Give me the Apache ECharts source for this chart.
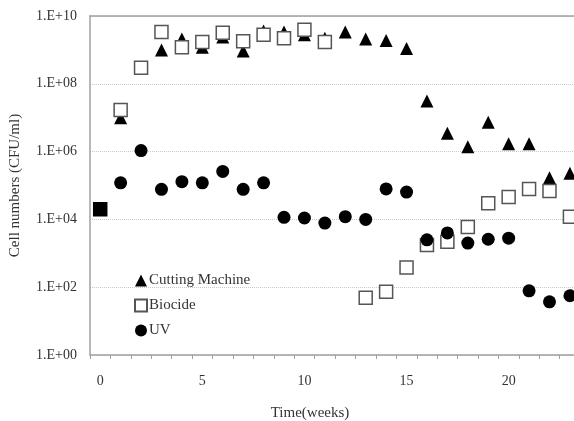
<!DOCTYPE html>
<html>
<head>
<meta charset="utf-8">
<script src="https://cdn.jsdelivr.net/npm/echarts@6/dist/echarts.min.js"></script>
<style>
  html, body { margin: 0; padding: 0; background: #fff; }
  #chart { width: 574px; height: 421px; }
</style>
</head>
<body>
<div id="chart"></div>
<script>
// weeks 0..23
const weeks = [0, 1, 2, 3, 4, 5, 6, 7, 8, 9, 10, 11, 12, 13, 14, 15, 16, 17, 18, 19, 20, 21, 22, 23];
const cuttingMachine = [2.0e4, 1.0e7, 3.0e8, 1.0e9, 2.1e9, 1.2e9, 2.4e9, 9.3e8, 3.6e9, 3.4e9, 2.8e9, 2.2e9,
  3.4e9, 2.1e9, 1.9e9, 1.1e9, 3.1e7, 3.5e6, 1.4e6, 7.4e6, 1.7e6, 1.7e6, 1.7e5, 2.3e5];
const biocide = [2.0e4, 1.7e7, 3.0e8, 3.4e9, 1.2e9, 1.7e9, 3.2e9, 1.8e9, 2.8e9, 2.2e9, 3.9e9, 1.7e9,
  null, 49, 74, 380, 1750, 2200, 6000, 3.0e4, 4.6e4, 7.9e4, 6.9e4, 1.2e4];
const uv = [2.0e4, 1.2e5, 1.07e6, 7.7e4, 1.3e5, 1.2e5, 2.6e5, 7.7e4, 1.2e5, 1.15e4, 1.1e4, 7.8e3,
  1.2e4, 1.0e4, 7.9e4, 6.4e4, 2.5e3, 4.0e3, 2.0e3, 2.6e3, 2.8e3, 78, 37, 56];
const xLabelValues = [0, 5, 10, 15, 20];
const xTickValues = weeks.map(w => w - 0.5);

const FONT = '"Liberation Serif", "Times New Roman", serif';
const TEXT = '#333';
const AXIS = '#a0a0a0';

function pairs(arr) {
  return weeks.map((w, i) => arr[i] == null ? null : [w, arr[i]])
    .filter(p => p !== null);
}

// week 0: all three overlap, drawn as a filled square
const biocideData = pairs(biocide).map(p =>
  p[0] === 0 ? { value: p, itemStyle: { color: '#000', borderColor: '#000' } } : p);

const chart = echarts.init(document.getElementById('chart'));
chart.setOption({
  animation: false,
  backgroundColor: '#fff',
  textStyle: { fontFamily: FONT, color: TEXT },
  grid: { left: 90, right: 0, top: 16, bottom: 66, outerBoundsMode: 'none' },
  legend: {
    orient: 'vertical',
    left: 134,
    top: 273,
    padding: 0,
    itemWidth: 12,
    itemHeight: 12,
    itemGap: 10,
    textStyle: { fontFamily: FONT, fontSize: 15, color: TEXT, padding: [0, 0, 0, -3] },
    data: ['Cutting Machine', 'Biocide', 'UV']
  },
  xAxis: [{
    type: 'value',
    min: -0.5,
    max: 23.2,
    name: 'Time(weeks)',
    nameLocation: 'middle',
    nameGap: 51,
    nameTextStyle: { fontFamily: FONT, fontSize: 15, color: TEXT, padding: [0, 44, 0, 0] },
    axisLine: { onZero: false, lineStyle: { color: AXIS, width: 1.5 } },
    axisTick: { show: true, length: 4, customValues: xTickValues, lineStyle: { color: AXIS } },
    axisLabel: { customValues: xLabelValues, margin: 19, fontFamily: FONT, fontSize: 14, color: TEXT },
    splitLine: { show: false }
  }, {
    type: 'value',
    position: 'top',
    min: -0.5,
    max: 23.2,
    axisLine: { show: true, onZero: false, lineStyle: { color: AXIS, width: 1.5 } },
    axisTick: { show: false },
    axisLabel: { show: false },
    splitLine: { show: false }
  }],
  yAxis: {
    type: 'log',
    logBase: 100,
    min: 1,
    max: 1e10,
    name: 'Cell numbers (CFU/ml)',
    nameLocation: 'middle',
    nameGap: 67,
    nameTextStyle: { fontFamily: FONT, fontSize: 15, color: TEXT },
    axisLine: { show: true, onZero: false, lineStyle: { color: AXIS, width: 1.5 } },
    axisTick: { show: false },
    axisLabel: {
      margin: 13,
      fontFamily: FONT,
      fontSize: 14,
      color: TEXT,
      formatter: v => {
        const e = Math.round(Math.log10(v));
        return '1.E+' + (e < 10 ? '0' + e : e);
      }
    },
    splitLine: { show: true, lineStyle: { color: '#c8c8c8', type: 'dotted', width: 1 } }
  },
  series: [{
    name: 'Cutting Machine',
    type: 'scatter',
    symbol: 'triangle',
    symbolSize: 13,
    itemStyle: { color: '#000', opacity: 1 },
    data: pairs(cuttingMachine)
  }, {
    name: 'Biocide',
    type: 'scatter',
    symbol: 'rect',
    symbolSize: 13,
    itemStyle: { color: '#fff', borderColor: '#555', borderWidth: 1.5, opacity: 1 },
    data: biocideData
  }, {
    name: 'UV',
    type: 'scatter',
    symbol: 'circle',
    symbolSize: 13,
    itemStyle: { color: '#000', opacity: 1 },
    data: pairs(uv)
  }]
});
</script>
</body>
</html>
